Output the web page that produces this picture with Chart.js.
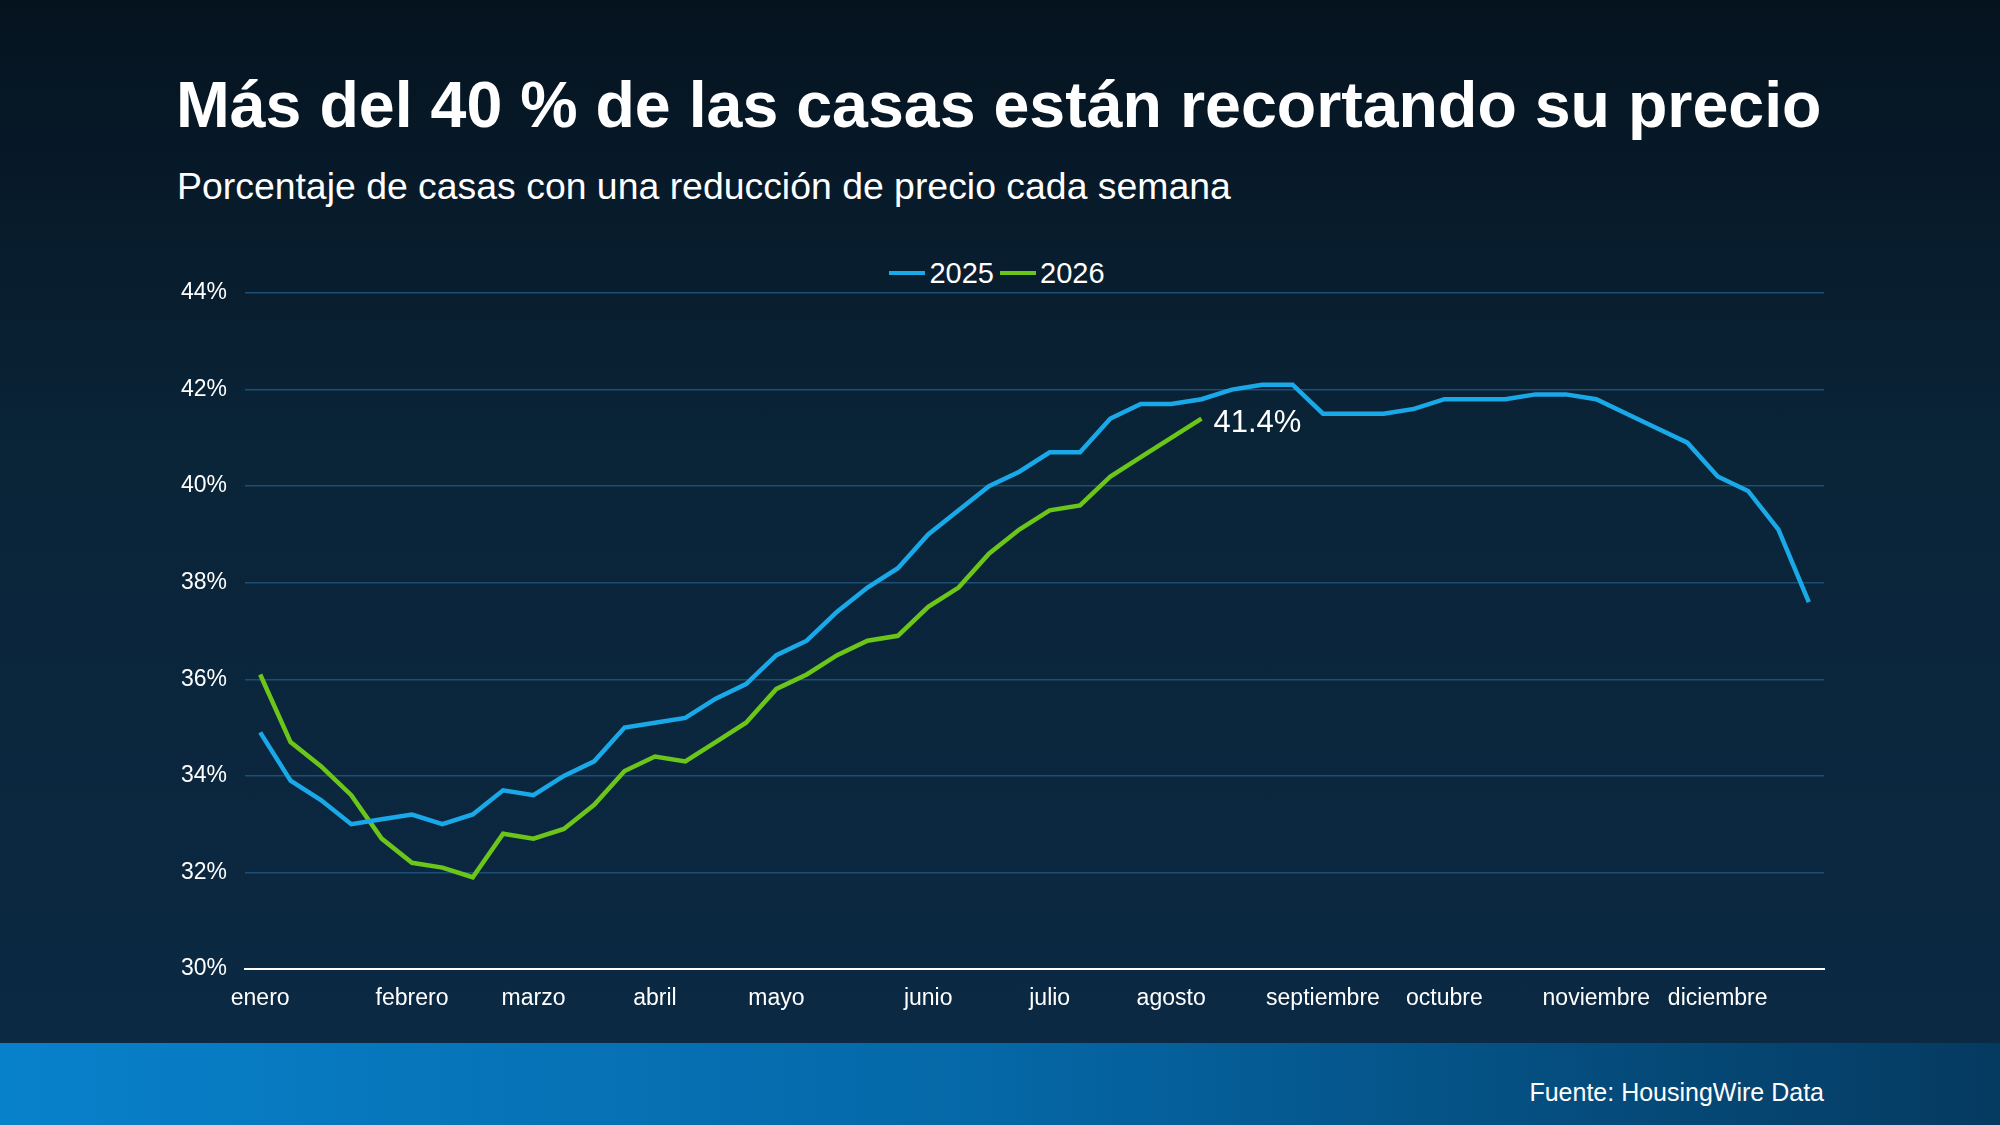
<!DOCTYPE html>
<html>
<head>
<meta charset="utf-8">
<script src="https://cdn.jsdelivr.net/npm/chart.js@4"></script>
<style>
  html, body { margin: 0; padding: 0; }
  body {
    width: 2000px; height: 1125px; position: relative; overflow: hidden;
    background: linear-gradient(180deg, #05131f 0%, #0a2438 40%, #0c2a45 100%);
    font-family: "Liberation Sans", Arial, sans-serif; color: #fff;
  }
  #title { position: absolute; left: 176px; top: 68px; font-size: 64.5px; font-weight: bold; }
  #subtitle { position: absolute; left: 177px; top: 165px; font-size: 37.4px; }
  #legend { position: absolute; top: 249px; left: 0; width: 2000px; text-align: center; font-size: 29px; }
  #legend span { display: inline-flex; align-items: center; margin: 0 6px 0 0; }
  #legend i { display: inline-block; width: 36px; height: 4px; margin-right: 4px; }
  #wrap { position: absolute; left: 0; top: 0; width: 2000px; height: 1045px; }
  #footer {
    position: absolute; left: 0; top: 1043px; width: 2000px; height: 82px;
    background: linear-gradient(90deg, #0881cb 0%, #0567a6 50%, #053a60 100%);
  }
  #source { position: absolute; right: 176px; top: 1078px; font-size: 25px; }
</style>
</head>
<body>
<div id="title">Más del 40 % de las casas están recortando su precio</div>
<div id="subtitle">Porcentaje de casas con una reducción de precio cada semana</div>
<div id="legend"><span><i style="background:#1aa9e8"></i>2025</span><span><i style="background:#6cc61a"></i>2026</span></div>
<div id="wrap"><canvas id="chart"></canvas></div>
<div id="footer"></div>
<div id="source">Fuente: HousingWire Data</div>
<script>
  // Etiquetas de mes en la semana donde aparecen
  const monthLabels = ['enero', 'febrero', 'marzo', 'abril', 'mayo', 'junio', 'julio', 'agosto', 'septiembre', 'octubre', 'noviembre', 'diciembre'];
  const monthWeeks = [0, 5, 9, 13, 17, 22, 26, 30, 35, 39, 44, 48];

  const values2025 = [34.9, 33.9, 33.5, 33.0, 33.1, 33.2, 33.0, 33.2, 33.7, 33.6, 34.0, 34.3, 35.0, 35.1, 35.2, 35.6, 35.9, 36.5, 36.8, 37.4, 37.9, 38.3, 39.0, 39.5, 40.0, 40.3, 40.7, 40.7, 41.4, 41.7, 41.7, 41.8, 42.0, 42.1, 42.1, 41.5, 41.5, 41.5, 41.6, 41.8, 41.8, 41.8, 41.9, 41.9, 41.8, 41.5, 41.2, 40.9, 40.2, 39.9, 39.1, 37.6];
  const values2026 = [36.1, 34.7, 34.2, 33.6, 32.7, 32.2, 32.1, 31.9, 32.8, 32.7, 32.9, 33.4, 34.1, 34.4, 34.3, 34.7, 35.1, 35.8, 36.1, 36.5, 36.8, 36.9, 37.5, 37.9, 38.6, 39.1, 39.5, 39.6, 40.2, 40.6, 41.0, 41.4];

  const yTicks = [30, 32, 34, 36, 38, 40, 42, 44];

  const labels = values2025.map((_, i) => {
    const k = monthWeeks.indexOf(i);
    return k >= 0 ? monthLabels[k] : '';
  });

  // Etiqueta del último valor de 2026
  const lastLabel = {
    id: 'lastLabel',
    afterDatasetsDraw(chart) {
      const meta = chart.getDatasetMeta(1);
      const pt = meta.data[meta.data.length - 1];
      const ctx = chart.ctx;
      ctx.save();
      ctx.fillStyle = '#ffffff';
      ctx.font = '31px "Liberation Sans", Arial, sans-serif';
      ctx.textBaseline = 'middle';
      ctx.fillText(values2026[values2026.length - 1].toFixed(1) + '%', pt.x + 12, pt.y + 5);
      ctx.restore();
    }
  };

  Chart.defaults.font.family = '"Liberation Sans", Arial, sans-serif';

  new Chart(document.getElementById('chart'), {
    type: 'line',
    data: {
      labels,
      datasets: [
        { label: '2025', data: values2025, borderColor: '#1aa9e8', borderWidth: 4.5, pointRadius: 0, tension: 0 },
        { label: '2026', data: values2026, borderColor: '#6cc61a', borderWidth: 4.5, pointRadius: 0, tension: 0 }
      ]
    },
    options: {
      responsive: true,
      maintainAspectRatio: false,
      animation: false,
      layout: { padding: { left: 0, right: 176, top: 293, bottom: 31 } },
      plugins: { legend: { display: false }, tooltip: { enabled: false } },
      scales: {
        x: {
          offset: true,
          grid: { display: false },
          border: { color: '#ffffff', width: 2 },
          afterFit: s => { s.height = 45; },
          ticks: { color: '#ffffff', font: { size: 23 }, autoSkip: false, maxRotation: 0, padding: 8 }
        },
        y: {
          min: 30, max: 44,
          afterFit: s => { s.width = 245; },
          afterBuildTicks: s => { s.ticks = yTicks.map(v => ({ value: v })); },
          grid: { color: '#1d4e76', lineWidth: 1.5, drawTicks: false },
          border: { display: false },
          ticks: { color: '#ffffff', font: { size: 23 }, padding: 18, callback: v => v + '%' }
        }
      }
    },
    plugins: [lastLabel]
  });
</script>
</body>
</html>
